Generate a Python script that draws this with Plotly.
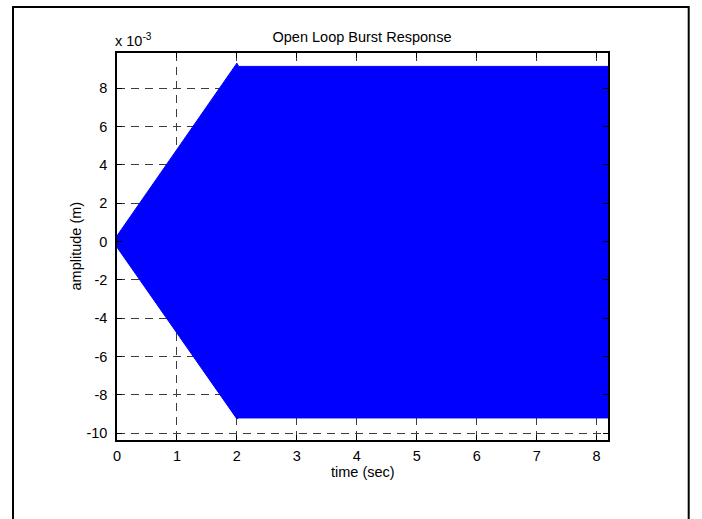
import plotly.graph_objects as go

# Envelope of the burst response (amplitude in units of 1e-3 m)
time_pts = [0.0, 1.0, 2.0, 2.03, 8.19]
upper_env = [0.3, 4.8, 9.30, 9.13, 9.13]
lower_env = [-0.3, -4.75, -9.25, -9.20, -9.20]

x_ticks = [0, 1, 2, 3, 4, 5, 6, 7, 8]
y_ticks = [-10, -8, -6, -4, -2, 0, 2, 4, 6, 8]
y_tick_labels = ["-10", "-8", "-6", "-4", "-2", "0", "2", "4", "6", "8"]

W, H = 702, 519
L, R, T, B = 117, 608, 53, 440   # plot area in pixels
pw, ph = R - L, B - T


def px(x):
    return (x - L) / pw


def py(y):
    return (B - y) / ph


fig = go.Figure()

# filled band between upper and lower envelope
fig.add_trace(go.Scatter(
    x=time_pts + time_pts[::-1],
    y=upper_env + lower_env[::-1],
    fill="toself",
    fillcolor="#0000FF",
    line=dict(color="#0000FF", width=1),
    mode="lines",
    hoverinfo="skip",
    showlegend=False,
))

font = dict(family="Liberation Sans, Arial, sans-serif", size=14.5, color="black")
grid = dict(showgrid=True, gridcolor="#3c3c3c", gridwidth=1, griddash="8px,6px",
            zeroline=False, showline=True, linecolor="black", linewidth=1.5,
            mirror="allticks", ticks="inside", ticklen=5, tickcolor="black",
            tickfont=font)

fig.update_xaxes(range=[0, 8.19], tickvals=x_ticks,
                 ticktext=[str(v) for v in x_ticks], ticklabelstandoff=2, **grid)
fig.update_yaxes(range=[-10.35, 9.83], tickvals=y_ticks,
                 ticktext=y_tick_labels, ticklabelstandoff=5, **grid)

fig.update_layout(
    width=W, height=H,
    margin=dict(l=L, r=W - R, t=T, b=H - B),
    plot_bgcolor="white", paper_bgcolor="white",
    font=font,
    title=dict(text="Open Loop Burst Response", x=px(362), xref="paper",
               xanchor="center", y=1 - 37 / H, yref="container", yanchor="middle",
               font=font),
    showlegend=False,
)

fig.add_annotation(text="x 10<sup>-3</sup>", xref="paper", yref="paper",
                   x=px(113), y=py(40), xanchor="left", yanchor="middle",
                   showarrow=False, font=font)
fig.add_annotation(text="time (sec)", xref="paper", yref="paper",
                   x=0.5, y=py(472), xanchor="center", yanchor="middle",
                   showarrow=False, font=font)
fig.add_annotation(text="amplitude (m)", xref="paper", yref="paper",
                   x=px(75), y=0.5, xanchor="center", yanchor="middle",
                   textangle=-90, showarrow=False, font=font)

# figure frame
fig.add_shape(type="rect", xref="paper", yref="paper",
              x0=px(13), x1=px(688.7), y0=py(560), y1=py(7),
              line=dict(color="black", width=2), layer="above")

fig.write_html("out.html")
